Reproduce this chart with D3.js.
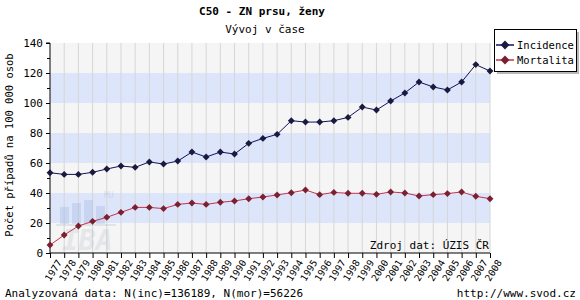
<!DOCTYPE html>
<html>
<head>
<meta charset="utf-8">
<script src="https://cdn.jsdelivr.net/npm/d3@7"></script>
<style>
body{margin:0;background:#fff;}
text{font-family:"DejaVu Sans Mono",monospace;}
</style>
</head>
<body>
<div class="canvas"></div>
<script>
// data
const years = d3.range(1977, 2009);
const incidence = [53.5,52.4,52.4,53.8,56,58,57.1,60.7,59.3,61.3,67.3,64,67.3,66,73.1,76.4,
	79.1,88.2,87.3,87.3,88.2,90.4,97.3,95.3,101.3,106.7,114,110.7,108.7,114,125.6,121.3];
const mortalita = [5.3,12,18,21.1,23.8,27.1,30.4,30.4,29.6,32.4,33.3,32.4,33.8,34.7,36.2,37.3,
	38.7,40.2,42,38.9,40.4,39.8,39.8,39.1,40.7,40,38,38.9,39.6,40.7,37.8,36.2];
const yTicks = [0,20,40,60,80,100,120,140];
const series = [
	{name:'Incidence', values:incidence, line:'#12125a', dot:'#1a1a40'},
	{name:'Mortalita', values:mortalita, line:'#c8324a', dot:'#7a2030'}
];

const W = 580, H = 300;
const m = {t:43, l:50};
const w = 440, h = 210;

const svg = d3.select('.canvas').append('svg')
	.attr('width', W).attr('height', H);

const x = d3.scalePoint().domain(years).range([m.l, m.l + w]);
const y = d3.scaleLinear().domain([0,140]).range([m.t + h, m.t]);

// background + bands
svg.append('rect').attr('x', m.l).attr('y', m.t).attr('width', w).attr('height', h)
	.attr('fill', '#f5f5f5');
svg.append('g').selectAll('rect')
	.data([20,60,100])
	.enter().append('rect')
	.attr('x', m.l).attr('width', w)
	.attr('y', d => y(d + 20))
	.attr('height', d => y(d) - y(d + 20))
	.attr('fill', '#dce5fa');

// vertical grid
svg.append('g').selectAll('line')
	.data(years.slice(1))
	.enter().append('line')
	.attr('x1', d => x(d)).attr('x2', d => x(d))
	.attr('y1', m.t).attr('y2', m.t + h)
	.attr('stroke', '#d6d6d6').attr('stroke-width', 1);

// watermark
const wm = svg.append('g').attr('opacity', 0.22);
[[60,207,9,18],[72,203,9,22],[84,200,9,25],[96,206,9,19]].forEach(b => {
	wm.append('rect').attr('x', b[0]).attr('y', b[1]).attr('width', b[2]).attr('height', b[3])
		.attr('fill', '#7f9fd8');
});
wm.append('rect').attr('x', 56).attr('y', 224).attr('width', 60).attr('height', 2).attr('fill', '#9ab');
wm.append('text').attr('x', 62).attr('y', 250).text('IBA')
	.attr('font-family', 'DejaVu Sans').attr('font-size', 28).attr('font-weight', 'bold')
	.attr('font-style', 'italic').attr('fill', '#a9b3c4');
wm.append('text').attr('x', 104).attr('y', 198).text('MU')
	.attr('font-family', 'DejaVu Sans').attr('font-size', 8).attr('fill', '#8fa0c0');

// axes
const yAxis = d3.axisLeft(y).tickValues(yTicks).tickSize(4).tickPadding(3);
const gy = svg.append('g').attr('transform', `translate(${m.l},0)`).call(yAxis);
gy.select('.domain').attr('d', `M-4,${m.t}H0V${m.t + h}`);
gy.selectAll('text').attr('font-size', 11).attr('fill', '#000')
	.attr('font-family', '"DejaVu Sans Mono",monospace');
gy.append('g').selectAll('line')
	.data(d3.range(10,140,20))
	.enter().append('line')
	.attr('x1', -3).attr('x2', 0)
	.attr('y1', d => y(d) + 0.5).attr('y2', d => y(d) + 0.5)
	.attr('stroke', '#000');

const xAxis = d3.axisBottom(x).tickSize(5).tickPadding(2);
const gx = svg.append('g').attr('transform', `translate(0,${m.t + h})`).call(xAxis);
gx.select('.domain').attr('d', `M${m.l},0H${m.l + w}`);
gx.selectAll('text')
	.attr('font-size', 9.5)
	.attr('font-family', '"DejaVu Sans Mono",monospace')
	.attr('fill', '#000')
	.attr('text-anchor', 'end')
	.attr('dy', '0.35em')
	.attr('transform', 'translate(3,4) rotate(-58)');

// lines + diamonds
const line = d3.line().x((d,i) => x(years[i])).y(d => y(d));
series.forEach(s => {
	svg.append('path').datum(s.values)
		.attr('d', line)
		.attr('fill', 'none')
		.attr('stroke', s.line)
		.attr('stroke-width', 1);
	svg.append('g').selectAll('path')
		.data(s.values)
		.enter().append('path')
		.attr('d', d3.symbol(d3.symbolDiamond2, 30))
		.attr('transform', (d,i) => `translate(${x(years[i])},${y(d)})`)
		.attr('fill', s.dot);
});

// titles
svg.append('text').attr('x', 262).attr('y', 15).attr('text-anchor', 'middle')
	.attr('font-size', 11).attr('font-weight', 'bold').text('C50 - ZN prsu, ženy');
svg.append('text').attr('x', 265).attr('y', 33).attr('text-anchor', 'middle')
	.attr('font-size', 11).text('Vývoj v čase');
svg.append('text')
	.attr('transform', `translate(13,${m.t + h / 2 - 3}) rotate(-90)`)
	.attr('text-anchor', 'middle').attr('font-size', 10.5)
	.text('Počet případů na 100 000 osob');
svg.append('text').attr('x', m.l + w - 1).attr('y', m.t + h - 4).attr('text-anchor', 'end')
	.attr('font-size', 11).text('Zdroj dat: ÚZIS ČR');
svg.append('text').attr('x', 5).attr('y', 297)
	.attr('font-size', 11).text('Analyzovaná data: N(inc)=136189, N(mor)=56226');
svg.append('text').attr('x', 576).attr('y', 297).attr('text-anchor', 'end')
	.attr('font-size', 11).text('http://www.svod.cz');

// legend
const lg = svg.append('g').attr('transform', 'translate(494,29)');
lg.append('rect').attr('x', 3).attr('y', 3).attr('width', 82).attr('height', 42).attr('fill', '#b8b8b8');
lg.append('rect').attr('x', 0.5).attr('y', 0.5).attr('width', 82).attr('height', 42)
	.attr('fill', '#fff').attr('stroke', '#000');
series.forEach((s, i) => {
	const ly = 16 + i * 15;
	lg.append('line').attr('x1', 2).attr('x2', 20).attr('y1', ly).attr('y2', ly)
		.attr('stroke', s.line).attr('stroke-width', 1.5);
	lg.append('path').attr('d', d3.symbol(d3.symbolDiamond2, 50))
		.attr('transform', `translate(11,${ly})`).attr('fill', s.dot);
	lg.append('text').attr('x', 23).attr('y', ly + 4).attr('font-size', 10.5).text(s.name);
});
</script>
</body>
</html>
